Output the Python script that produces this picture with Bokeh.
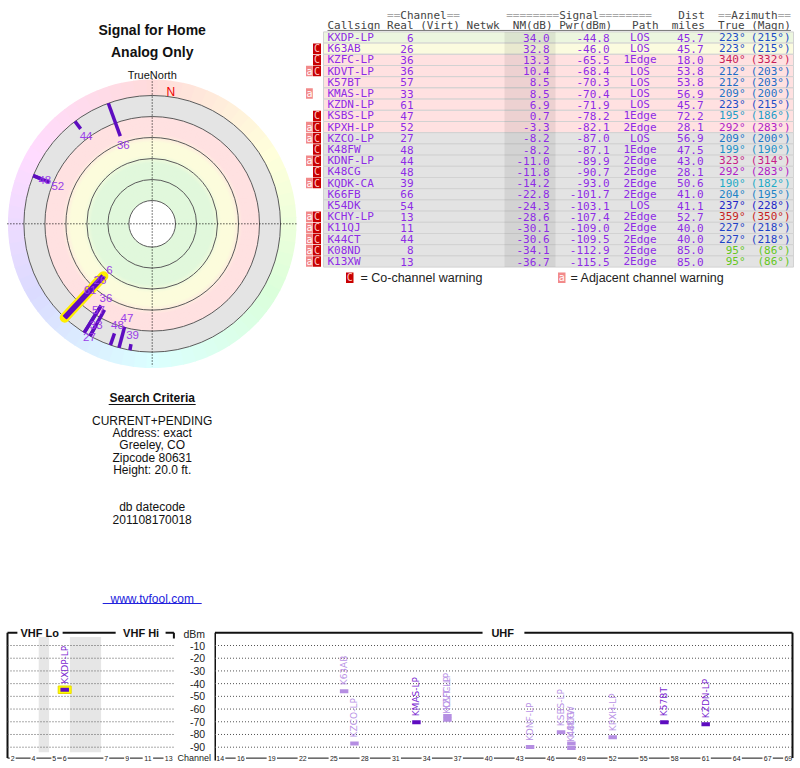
import numpy as np
import colorsys
from bokeh.plotting import figure
from bokeh.layouts import column, row
from bokeh.models import Range1d
from bokeh.core.properties import value
from bokeh.embed import file_html
from bokeh.resources import INLINE

# ---------------- data ----------------
callsigns = ["KXDP-LP", "K63AB", "KZFC-LP", "KDVT-LP", "K57BT", "KMAS-LP", "KZDN-LP",
             "KSBS-LP", "KPXH-LP", "KZCO-LP", "K48FW", "KDNF-LP", "K48CG", "KQDK-CA",
             "K66FB", "K54DK", "KCHY-LP", "K11QJ", "K44CT", "K08ND", "K13XW"]
real_ch = [6, 26, 36, 36, 57, 33, 61, 47, 52, 27, 48, 44, 48, 39, 66, 54, 13, 11, 44, 8, 13]
nm_db = [34.0, 32.8, 13.3, 10.4, 8.5, 8.5, 6.9, 0.7, -3.3, -8.2, -8.2, -11.0, -11.8, -14.2,
         -22.8, -24.3, -28.6, -30.1, -30.6, -34.1, -36.7]
pwr_dbm = [-44.8, -46.0, -65.5, -68.4, -70.3, -70.4, -71.9, -78.2, -82.1, -87.0, -87.1, -89.9,
           -90.7, -93.0, -101.7, -103.1, -107.4, -109.0, -109.5, -112.9, -115.5]
path = ["LOS", "LOS", "1Edge", "LOS", "LOS", "LOS", "LOS", "1Edge", "2Edge", "LOS", "1Edge",
        "2Edge", "2Edge", "2Edge", "2Edge", "LOS", "2Edge", "2Edge", "2Edge", "2Edge", "2Edge"]
dist_mi = [45.7, 45.7, 18.0, 53.8, 53.8, 56.9, 45.7, 72.2, 28.1, 56.9, 47.5, 43.0, 28.1, 50.6,
           41.0, 41.1, 52.7, 40.0, 40.0, 85.0, 85.0]
az_true = [223, 223, 340, 212, 212, 209, 223, 195, 292, 209, 199, 323, 292, 190, 204, 237, 359,
           227, 227, 95, 95]
az_magn = [215, 215, 332, 203, 203, 200, 215, 186, 283, 200, 190, 314, 283, 182, 195, 228, 350,
           218, 218, 86, 86]
co_warn = [0, 1, 1, 1, 0, 0, 0, 1, 1, 1, 1, 1, 1, 1, 0, 0, 1, 1, 1, 1, 1]
adj_warn = [0, 0, 0, 1, 0, 1, 0, 0, 1, 1, 0, 1, 0, 1, 0, 0, 1, 1, 1, 1, 1]
highlight = "KXDP-LP"

vhf_ticks = [2, 4, 5, 6, 7, 9, 11, 13]
uhf_ticks = [14, 16, 19, 22, 25, 28, 31, 34, 37, 40, 43, 46, 49, 52, 55, 58, 61, 64, 67, 69]
dbm_ticks = [-10, -20, -30, -40, -50, -60, -70, -80, -90]
ring_nm = [-20, 0, 20, 40, 60, 80]
title_lines = ["Signal for Home", "Analog Only"]
criteria_lines = ["CURRENT+PENDING", "Address: exact", "Greeley, CO", "Zipcode 80631",
                  "Height: 20.0 ft."]
datecode_lines = ["db datecode", "201108170018"]
site_link = "www.tvfool.com"

SANS = value("Liberation Sans")
MONO = value("DejaVu Sans Mono")
LABEL = value("DejaVu Sans")
PURPLE = "#8e2be6"


def mkfig(w, h, xr, yr):
    p = figure(width=w, height=h, x_range=Range1d(*xr), y_range=Range1d(*yr),
               output_backend="svg", toolbar_location=None, x_axis_type=None,
               y_axis_type=None, min_border=0)
    p.outline_line_color = None
    p.grid.visible = False
    p.background_fill_color = "white"
    p.border_fill_color = "white"
    return p


def hexcol(rgb):
    return "#%02x%02x%02x" % tuple(int(round(c * 255)) for c in rgb)


def mix(c1, c2, t):
    a = np.array([int(c1[i:i + 2], 16) for i in (1, 3, 5)], float)
    b = np.array([int(c2[i:i + 2], 16) for i in (1, 3, 5)], float)
    return hexcol((a + (b - a) * t) / 255.0)


N = len(callsigns)
nm = np.array(nm_db, float)
az = np.array(az_true, float)

# page layout (pixels)
LW, TOPH = 304, 620
PAGE_W, PAGE_H = 800, 768

# ---------------- left panel: polar plot + texts ----------------
CX, CY = 151.7, 223.3
L = mkfig(LW, TOPH, (0 - CX, LW - CX), (CY - TOPH, CY))
R0, KR = 107.3, 1.05


def rad(v):
    return R0 - KR * np.asarray(v, float)


r_out = float(rad(ring_nm[0]))
# hue ring
wedge_az = np.arange(0, 360, 5.0)
wedge_cols = [hexcol(colorsys.hsv_to_rgb(a / 360.0, 0.14, 1.0)) for a in wedge_az]
L.annular_wedge(x=0, y=0, inner_radius=r_out, outer_radius=r_out + 16,
                start_angle=np.radians(90 - (wedge_az + 2.7)),
                end_angle=np.radians(90 - (wedge_az - 2.7)),
                fill_color=wedge_cols, line_color=None)
# zones
GRAY, PINK, YEL, GRN = "#e4e4e4", "#ffe1e1", "#fcfcdc", "#e1f8dc"
L.circle(x=[0], y=[0], radius=[r_out], fill_color=GRAY, line_color=None)
zr = np.arange(float(rad(0)), float(rad(80)), -1.0)
zcols = []
for rr in zr:
    v = (R0 - rr) / KR
    if v < 16:
        c = PINK
    elif v < 24:
        c = mix(PINK, YEL, (v - 16) / 8)
    elif v < 36:
        c = YEL
    elif v < 44:
        c = mix(YEL, GRN, (v - 36) / 8)
    else:
        c = GRN
    zcols.append(c)
L.circle(x=np.zeros(len(zr)), y=np.zeros(len(zr)), radius=zr, fill_color=zcols, line_color=None)
L.circle(x=[0], y=[0], radius=[float(rad(80))], fill_color="white", line_color=None)
ring_r = rad(ring_nm)
L.circle(x=np.zeros(len(ring_r)), y=np.zeros(len(ring_r)), radius=ring_r, fill_color=None,
         line_color="#5a5a5a", line_width=1)
# crosshair
L.segment(x0=[-r_out - 16.5, 0], y0=[0, r_out + 17], x1=[r_out + 16, 0], y1=[0, -r_out - 14.5],
          line_color="black", line_dash="1 2", line_width=1)

# stations bars
shown = [i for i in range(N) if nm[i] >= ring_nm[0]]
a_sh = np.radians(az[shown])
r_in = rad(nm[shown])
hi = [k for k, i in enumerate(shown) if callsigns[i] == highlight]
for k in hi:
    L.segment(x0=[r_in[k] * np.sin(a_sh[k])], y0=[r_in[k] * np.cos(a_sh[k])],
              x1=[r_out * np.sin(a_sh[k])], y1=[r_out * np.cos(a_sh[k])],
              line_color="#ffee00", line_width=10, line_cap="round")
widths = [5.5 if callsigns[i] == highlight else 3.5 for i in shown]
L.segment(x0=r_in * np.sin(a_sh), y0=r_in * np.cos(a_sh), x1=r_out * np.sin(a_sh),
          y1=r_out * np.cos(a_sh), line_color="#5e0cc0", line_width=widths)
# labels with simple collision avoidance
placed = []
lx, ly, lt = [], [], []
for i in shown:
    a = np.radians(az[i])
    r = float(rad(nm[i])) - 9
    while True:
        px, py = r * np.sin(a), r * np.cos(a)
        hit = [q for q in placed if np.hypot(px - q[0], py - q[1]) < 11]
        if not hit:
            break
        r = hit[0][2] + 14
    placed.append((px, py, r))
    lx.append(px)
    ly.append(py)
    lt.append(str(real_ch[i]))
L.text(x=lx, y=ly, text=lt, text_font=SANS, text_font_size="11.5px", text_color="#9a3ee8",
       text_align="center", text_baseline="middle")
decl = np.radians(az_true[0] - az_magn[0])
L.text(x=[133 * np.sin(decl)], y=[133 * np.cos(decl)], text=["N"], text_font=SANS,
       text_font_size="12px", text_color="#ee0000", text_align="center", text_baseline="middle")
L.text(x=[0], y=[CY - 74], text=["TrueNorth"], text_font=SANS, text_font_size="11px",
       text_color="#111111", text_align="center", text_baseline="middle")
L.text(x=[0, 0], y=[CY - 29, CY - 51], text=title_lines, text_font=SANS, text_font_size="14px",
       text_font_style="bold", text_color="#111111", text_align="center", text_baseline="middle")
L.text(x=[0], y=[CY - 397.5], text=["Search Criteria"], text_font=SANS, text_font_size="12px",
       text_font_style="bold", text_color="#111111", text_align="center", text_baseline="middle")
L.segment(x0=[-43.5], y0=[CY - 404], x1=[43.5], y1=[CY - 404], line_color="#111111", line_width=1)
cy_lines = CY - (420 + 12.35 * np.arange(len(criteria_lines)))
L.text(x=np.zeros(len(criteria_lines)), y=cy_lines, text=criteria_lines, text_font=SANS,
       text_font_size="12px", text_color="#111111", text_align="center", text_baseline="middle")
dy_lines = CY - (506 + 12.5 * np.arange(len(datecode_lines)))
L.text(x=np.zeros(len(datecode_lines)), y=dy_lines, text=datecode_lines, text_font=SANS,
       text_font_size="12px", text_color="#111111", text_align="center", text_baseline="middle")
L.text(x=[0], y=[CY - 598], text=[site_link], text_font=SANS, text_font_size="12px",
       text_color="#2222dd", text_align="center", text_baseline="middle")
L.segment(x0=[-49.5], y0=[CY - 603], x1=[49.5], y1=[CY - 603], line_color="#2222dd", line_width=1)

# ---------------- table ----------------
ROW0, ROWH = 37.0, 11.2
T = mkfig(PAGE_W - LW, TOPH, (LW, PAGE_W), ((TOPH - ROW0) / ROWH, (0 - ROW0) / ROWH))
idx = np.arange(N)


def zone_color(v):
    if v >= 33.5:
        return "#ecf6df"
    if v >= 15:
        return "#fbfbdf"
    if v >= -5:
        return "#ffe1e1"
    return "#e3e3e3"


row_cols = [zone_color(nm[i]) for i in range(N)]
T.quad(left=323, right=793, top=idx - 0.5, bottom=idx + 0.5, fill_color=row_cols,
       line_color="#d2d2d2", line_width=1)
T.quad(left=[504], right=[555], top=[-0.5], bottom=[N - 0.5], fill_color="black",
       fill_alpha=0.07, line_color=None)

CW, X0 = 6.62, 327.0
hdr1 = [("==", 9, "#a8a8a8"), ("Channel", 11, "#444444"), ("==", 18, "#a8a8a8"),
        ("========", 27, "#a8a8a8"), ("Signal", 35, "#444444"), ("========", 41, "#a8a8a8"),
        ("Dist", 53, "#444444"), ("==", 59, "#a8a8a8"), ("Azimuth", 61, "#444444"),
        ("==", 68, "#a8a8a8")]
hdr2 = [("Callsign", 0), ("Real", 9), ("(Virt)", 14), ("Netwk", 21), ("NM(dB)", 28),
        ("Pwr(dBm)", 35), ("Path", 46), ("miles", 52), ("True", 59), ("(Magn)", 64)]
T.text(x=[X0 + c * CW for _, c, _ in hdr1], y=[-2.0] * len(hdr1), text=[t for t, _, _ in hdr1],
       text_color=[k for _, _, k in hdr1], text_font=MONO, text_font_size="11px",
       text_align="left", text_baseline="middle")
T.text(x=[X0 + c * CW for _, c in hdr2], y=[-1.07] * len(hdr2), text=[t for t, _ in hdr2],
       text_color="#444444", text_font=MONO, text_font_size="11px", text_align="left",
       text_baseline="middle")
T.segment(x0=[X0], y0=[-0.63], x1=[X0 + 70 * CW], y1=[-0.63], line_color="#777777", line_width=1)


def az_color(a):
    return hexcol(colorsys.hsv_to_rgb(a / 360.0, 0.85, 0.78))


az_cols = [az_color(a) for a in az_true]
cols_spec = [
    (327, callsigns, "left", PURPLE),
    (413, [str(c) for c in real_ch], "right", PURPLE),
    (549, ["%.1f" % v for v in nm_db], "right", PURPLE),
    (609, ["%.1f" % v for v in pwr_dbm], "right", PURPLE),
    (639.5, path, "center", PURPLE),
    (703, ["%.1f" % v for v in dist_mi], "right", PURPLE),
    (745, ["%d\u00b0" % v for v in az_true], "right", az_cols),
    (790, ["(%d\u00b0)" % v for v in az_magn], "right", az_cols),
]
for xpos, txt, al, colr in cols_spec:
    T.text(x=[xpos] * N, y=idx, text=txt, text_color=colr, text_font=MONO, text_font_size="11px",
           text_align=al, text_baseline="middle")
# warning icons
ci = [i for i in range(N) if co_warn[i]]
ai = [i for i in range(N) if adj_warn[i]]
T.quad(left=312.5, right=320.5, top=np.array(ci) - 0.47, bottom=np.array(ci) + 0.47,
       fill_color="#c80000", line_color=None)
T.text(x=[316.5] * len(ci), y=ci, text=["C"] * len(ci), text_color="#ffc8c8", text_font=MONO,
       text_font_size="10px", text_align="center", text_baseline="middle")
T.quad(left=305.5, right=312.3, top=np.array(ai) - 0.47, bottom=np.array(ai) + 0.47,
       fill_color="#f28a8a", line_color=None)
T.text(x=[309] * len(ai), y=ai, text=["a"] * len(ai), text_color="#ffffff", text_font=MONO,
       text_font_size="10px", text_align="center", text_baseline="middle")
# legend
ly_ = N + 0.45
T.quad(left=[345.5], right=[353], top=[ly_ - 0.47], bottom=[ly_ + 0.47], fill_color="#c80000",
       line_color=None)
T.text(x=[349.3], y=[ly_], text=["C"], text_color="#ffc8c8", text_font=MONO,
       text_font_size="10px", text_align="center", text_baseline="middle")
T.quad(left=[557.5], right=[565], top=[ly_ - 0.47], bottom=[ly_ + 0.47], fill_color="#f28a8a",
       line_color=None)
T.text(x=[561.3], y=[ly_], text=["a"], text_color="#ffffff", text_font=MONO,
       text_font_size="10px", text_align="center", text_baseline="middle")
T.text(x=[360, 570], y=[ly_, ly_], text=["= Co-channel warning", "= Adjacent channel warning"],
       text_color="#222222", text_font=SANS, text_font_size="12.5px", text_align="left",
       text_baseline="middle")

# ---------------- spectrum ----------------
PX_DB, Y0 = 1.271, 632.3
BH = PAGE_H - TOPH
YR = ((Y0 - PAGE_H) / PX_DB, (Y0 - TOPH) / PX_DB)
VW = 214
VX0, VS = 7.0, 10.4
UX0, US = 214.5, 10.33
V = mkfig(VW, BH, ((0 - VX0) / VS, (VW - VX0) / VS), YR)
U = mkfig(PAGE_W - VW, BH, ((VW - UX0) / US, (PAGE_W - UX0) / US), YR)


def vslot(ch):
    return ch - 2 if ch <= 4 else (ch - 1 if ch <= 6 else ch + 2)


AX_Y = -98.6
FRAME = dict(line_color="#111111", line_width=2)
# VHF frame
V.segment(x0=[0.0], y0=[0], x1=[0.0], y1=[AX_Y], **FRAME)
V.segment(x0=[0.0, 5.3, 15.2, 16.0], y0=[0, 0, 0, 0], x1=[0.95, 10.4, 16.0, 16.0],
          y1=[0, 0, 0, -4.5], **FRAME)
V.text(x=[3.1, 12.85], y=[0, 0], text=["VHF Lo", "VHF Hi"], text_font=SANS,
       text_font_size="11px", text_font_style="bold", text_color="#111111",
       text_align="center", text_baseline="middle")
V.quad(left=[3, 6], right=[4, 9], top=[-3.4, -3.4], bottom=[-94, -94], fill_color="#e6e6e6",
       line_color=None)
V.segment(x0=[0.0] * len(dbm_ticks), y0=dbm_ticks, x1=[16.0] * len(dbm_ticks), y1=dbm_ticks,
          line_color="#555555", line_dash="1 2", line_width=1)
V.text(x=[19.0] * len(dbm_ticks), y=dbm_ticks, text=[str(t) for t in dbm_ticks],
       text_font=SANS, text_font_size="10.5px", text_color="#222222", text_align="right",
       text_baseline="middle")
V.text(x=[19.0], y=[-0.6], text=["dBm"], text_font=SANS, text_font_size="10.5px",
       text_color="#222222", text_align="right", text_baseline="middle")
vt = np.array([vslot(c) + 0.5 for c in vhf_ticks])
vgap = np.array([0.28 if c < 10 else 0.5 for c in vhf_ticks])
V.segment(x0=np.r_[0.0, vt[:-1] + vgap[:-1]], y0=AX_Y, x1=np.r_[vt[0] - vgap[0], vt[1:] - vgap[1:]],
          y1=AX_Y, line_color="#111111", line_width=1)
V.text(x=vt, y=[AX_Y] * len(vt), text=[str(c) for c in vhf_ticks], text_font=SANS,
       text_font_size="7px", text_color="#222222", text_align="center", text_baseline="middle")
V.text(x=[16.35], y=[AX_Y], text=["Channel"], text_font=SANS, text_font_size="9px",
       text_color="#222222", text_align="left", text_baseline="middle")

# UHF frame
UR = (792 - UX0) / US
U.segment(x0=[0.0, UR], y0=[0, 0], x1=[0.0, UR], y1=[-100.5, AX_Y], **FRAME)
U.segment(x0=[0.0, 29.95], y0=[0, 0], x1=[25.9, UR], y1=[0, 0], **FRAME)
U.text(x=[27.85], y=[0], text=["UHF"], text_font=SANS, text_font_size="11px",
       text_font_style="bold", text_color="#111111", text_align="center", text_baseline="middle")
U.segment(x0=[0.0] * len(dbm_ticks), y0=dbm_ticks, x1=[UR] * len(dbm_ticks), y1=dbm_ticks,
          line_color="#555555", line_dash="1 2", line_width=1)
ut = np.array([c - 14 + 0.5 for c in uhf_ticks])
U.segment(x0=np.r_[0.0, ut[:-1] + 0.5], y0=AX_Y, x1=np.r_[ut[0] - 0.5, ut[1:] - 0.5], y1=AX_Y,
          line_color="#111111", line_width=1)
U.text(x=ut, y=[AX_Y] * len(ut), text=[str(c) for c in uhf_ticks], text_font=SANS,
       text_font_size="7px", text_color="#222222", text_align="center", text_baseline="middle")

# station bars on spectrum
SPEC_MIN = -92
for fig, sel, slotf in ((V, lambda c: c <= 13, vslot), (U, lambda c: c >= 14, lambda c: c - 14)):
    ids = [i for i in range(N) if sel(real_ch[i]) and pwr_dbm[i] > SPEC_MIN]
    if not ids:
        continue
    xs = [slotf(real_ch[i]) + 0.5 for i in ids]
    ys = [pwr_dbm[i] for i in ids]
    hx = [x for x, i in zip(xs, ids) if callsigns[i] == highlight]
    hy = [y for y, i in zip(ys, ids) if callsigns[i] == highlight]
    if hx:
        fig.rect(x=hx, y=hy, width=13, height=7.5, width_units="screen", height_units="screen",
                 fill_color="#ffff00", line_color="#e8d800", line_width=1)
    bar_c = ["#b58ee2" if co_warn[i] else "#5e0cc0" for i in ids]
    lab_c = ["#b993e6" if co_warn[i] else "#7a1fd0" for i in ids]
    fig.rect(x=xs, y=ys, width=0.82, height=4, height_units="screen", fill_color=bar_c,
             line_color=None)
    fig.text(x=xs, y=ys, text=[callsigns[i] for i in ids], angle=np.pi / 2, y_offset=-6,
             text_font=LABEL, text_font_size="9px", text_color=lab_c, text_align="left",
             text_baseline="middle")

layout = column(row(L, T), row(V, U))
open("out.html", "w").write(file_html(layout, INLINE))
